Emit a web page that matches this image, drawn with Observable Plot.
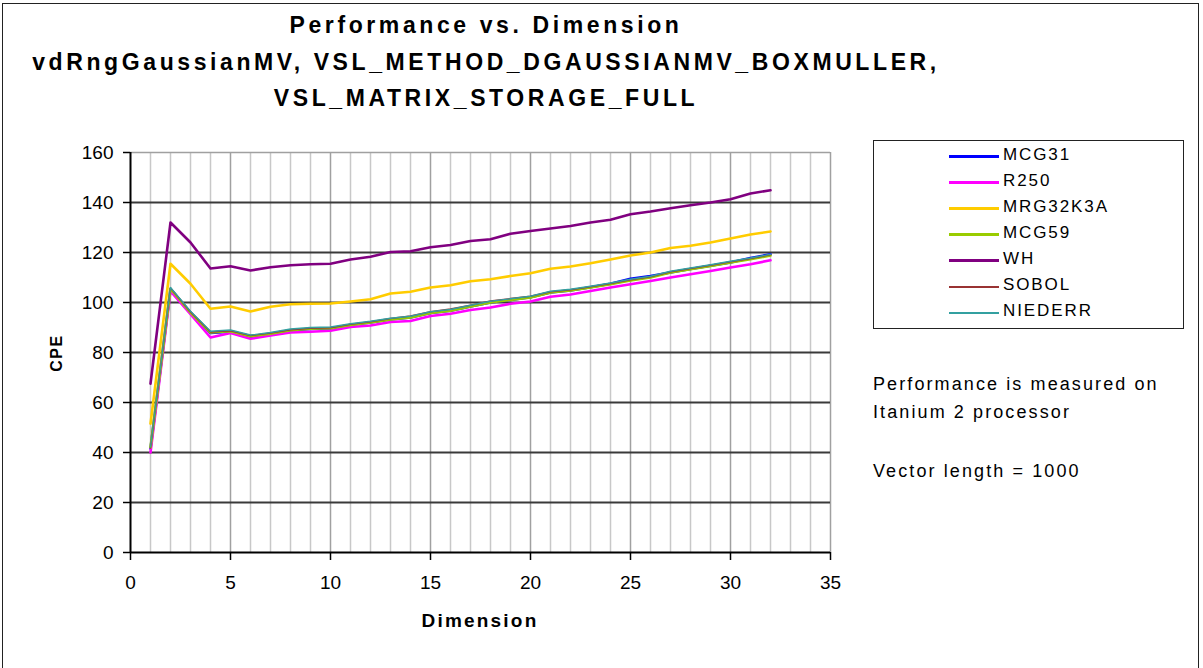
<!DOCTYPE html>
<html>
<head>
<meta charset="utf-8">
<script src="https://cdn.jsdelivr.net/npm/d3@7"></script>
<script src="https://cdn.jsdelivr.net/npm/@observablehq/plot@0.6"></script>
<style>
  body { margin: 0; background: #fff; }
  #wrap { position: relative; width: 1203px; height: 668px; overflow: hidden; background: #fff;
          font-family: "Liberation Sans", Arial, sans-serif; color: #000; }
  #frame { position: absolute; left: 2px; top: 3px; width: 1197px; height: 666px; border: 1px solid #222; box-sizing: border-box; }
  .t { position: absolute; white-space: nowrap; }
  .title { font-weight: bold; font-size: 23px; letter-spacing: 3.6px; left: 0; width: 972px; text-align: center; }
  #legend { position: absolute; left: 873px; top: 140px; width: 311px; height: 189px; border: 1.5px solid #222; box-sizing: border-box; }
  .lrow { position: absolute; left: 0; height: 20px; width: 300px; }
  .lline { position: absolute; left: 75px; width: 50px; }
  .ltext { position: absolute; left: 129px; top: -1px; font-size: 17px; letter-spacing: 1.9px; line-height: 20px; }
  .note { font-size: 18px; letter-spacing: 2.1px; left: 873px; }
  svg { position: absolute; left: 0; top: 0; }
</style>
</head>
<body>
<div id="wrap">
  <div id="frame"></div>
</div>
<script>
// ---- data ----
const dims = [1,2,3,4,5,6,7,8,9,10,11,12,13,14,15,16,17,18,19,20,21,22,23,24,25,26,27,28,29,30,31,32];

const seriesNames = ["MCG31","R250","MRG32K3A","MCG59","WH","SOBOL","NIEDERR"];
const seriesColors = ["#0000ff","#ff00ff","#ffcc00","#99cc00","#800080","#993333","#33a0a0"];
const seriesWidths = [2.6, 2.6, 2.6, 2.6, 2.6, 1.3, 1.3];

const mcg31    = [41.5,105.5,96.0,87.8,88.3,85.9,87.3,88.8,89.4,89.6,91.0,92.0,93.2,94.0,95.8,96.7,98.4,100.0,101.0,102.1,104.0,104.8,106.1,107.5,109.5,110.6,112.0,113.4,114.7,116.0,117.8,119.3];
const r250     = [40.0,104.5,95.3,86.0,87.8,85.5,86.8,88.0,88.3,88.7,90.2,90.8,92.2,92.6,94.6,95.5,97.0,98.0,99.5,100.4,102.3,103.2,104.6,106.0,107.3,108.6,110.0,111.3,112.6,114.0,115.3,116.9];
const mrg32k3a = [51.5,115.5,107.5,97.5,98.4,96.4,98.3,99.3,99.5,99.6,100.4,101.3,103.6,104.3,106.0,106.9,108.5,109.3,110.6,111.7,113.5,114.4,115.7,117.2,118.8,120.0,121.8,122.7,124.0,125.6,127.2,128.4];
const mcg59    = [42.0,105.5,96.0,88.0,88.5,86.5,87.5,88.9,89.5,89.7,91.0,92.0,93.2,94.0,95.8,96.7,98.4,100.0,101.0,102.0,104.0,104.8,106.0,107.3,108.8,110.0,112.0,113.3,114.6,116.0,117.3,118.8];
const wh       = [67.5,132.0,124.0,113.6,114.5,112.8,114.1,114.9,115.3,115.5,117.2,118.3,120.2,120.5,122.1,123.0,124.6,125.3,127.5,128.6,129.6,130.6,132.0,133.1,135.3,136.4,137.7,138.9,140.0,141.3,143.6,144.9];
const sobol    = [41.8,105.8,96.2,88.2,88.7,86.8,87.8,89.1,89.7,89.9,91.3,92.3,93.6,94.6,96.3,97.4,98.9,100.6,101.6,102.5,104.3,105.1,106.3,107.6,109.1,110.3,112.3,113.6,114.9,116.3,117.6,119.1];
const niederr  = [42.2,106.0,96.5,88.5,89.0,87.0,88.0,89.4,90.0,90.2,91.5,92.5,93.7,94.5,96.3,97.2,98.9,100.5,101.5,102.5,104.5,105.3,106.5,107.8,109.3,110.5,112.5,113.8,115.1,116.5,117.8,119.3];
const seriesValues = [mcg31, r250, mrg32k3a, mcg59, wh, sobol, niederr];

const xMajorTicks = [0,5,10,15,20,25,30,35];
const xMinorTicks = [1,2,3,4,6,7,8,9,11,12,13,14,16,17,18,19,21,22,23,24,26,27,28,29,31,32,33,34];
const yTicks = [0,20,40,60,80,100,120,140,160];

const titleLines = ["Performance vs. Dimension", "vdRngGaussianMV, VSL_METHOD_DGAUSSIANMV_BOXMULLER,", "VSL_MATRIX_STORAGE_FULL"];
const xLabel = "Dimension";
const yLabel = "CPE";
const notes = ["Performance is measured on", "Itanium 2 processor", "Vector length = 1000"];

// ---- build ----
const rows = [];
seriesNames.forEach((name, i) => {
  dims.forEach((d, j) => rows.push({series: name, dim: d, cpe: seriesValues[i][j]}));
});

const lineMarks = seriesNames.map((name, i) =>
  Plot.line(rows.filter(r => r.series === name), {
    x: "dim", y: "cpe", stroke: seriesColors[i], strokeWidth: seriesWidths[i], strokeLinejoin: "round"
  })
);

const chart = Plot.plot({
  width: 1203,
  height: 668,
  marginLeft: 130,
  marginRight: 373,
  marginTop: 152,
  marginBottom: 116,
  style: { fontFamily: "'Liberation Sans', Arial, sans-serif", fontSize: "19px", background: "transparent", color: "#000", overflow: "visible" },
  x: { domain: [0, 35] },
  y: { domain: [0, 160] },
  marks: [
    Plot.ruleX(xMinorTicks, { stroke: "#c8c8c8", strokeWidth: 1.5 }),
    Plot.ruleX(xMajorTicks.filter(t => t > 0), { stroke: "#a0a0a0", strokeWidth: 1.5 }),
    Plot.ruleY(yTicks.filter(t => t > 0 && t < 160), { stroke: "#3a3a3a", strokeWidth: 2 }),
    Plot.ruleY([160], { stroke: "#a0a0a0", strokeWidth: 1.5 }),
    Plot.axisX({ ticks: xMajorTicks, tickSize: 8, tickPadding: 15, label: null, stroke: "#000", strokeWidth: 1.5, fontSize: 19, letterSpacing: "0.5px" }),
    Plot.axisY({ ticks: yTicks, tickSize: 7, tickPadding: 10, label: null, stroke: "#000", strokeWidth: 1.5, fontSize: 19, letterSpacing: "0.5px" }),
    ...lineMarks,
    Plot.ruleX([0], { stroke: "#000", strokeWidth: 2 }),
    Plot.ruleY([0], { stroke: "#000", strokeWidth: 2 })
  ]
});

const wrap = document.getElementById("wrap");
wrap.appendChild(chart);

function addText(cls, text, styles) {
  const el = document.createElement("div");
  el.className = "t " + cls;
  el.textContent = text;
  Object.assign(el.style, styles);
  wrap.appendChild(el);
  return el;
}

// title
addText("title", titleLines[0], { top: "12px" });
addText("title", titleLines[1], { top: "49px" });
addText("title", titleLines[2], { top: "85px" });

// axis labels
addText("", xLabel, { left: "380px", width: "200px", textAlign: "center", top: "610px", fontWeight: "bold", fontSize: "19px", letterSpacing: "2.2px" });
addText("", yLabel, { left: "7px", width: "100px", textAlign: "center", top: "344px", fontWeight: "bold", fontSize: "16px", letterSpacing: "1.5px", transform: "rotate(-90deg)" });

// notes
addText("note", notes[0], { top: "374px" });
addText("note", notes[1], { top: "402px" });
addText("note", notes[2], { top: "461px" });

// legend
const legend = document.createElement("div");
legend.id = "legend";
wrap.appendChild(legend);
const rowTops = [5, 31, 57, 83, 109, 135, 161];
seriesNames.forEach((name, i) => {
  const row = document.createElement("div");
  row.className = "lrow";
  row.style.top = rowTops[i] + "px";
  const ln = document.createElement("div");
  ln.className = "lline";
  ln.style.background = seriesColors[i];
  ln.style.height = (seriesWidths[i] > 2 ? 3 : 2) + "px";
  ln.style.top = (seriesWidths[i] > 2 ? 9 : 10) + "px";
  const tx = document.createElement("div");
  tx.className = "ltext";
  tx.textContent = name;
  row.appendChild(ln);
  row.appendChild(tx);
  legend.appendChild(row);
});
</script>
</body>
</html>
